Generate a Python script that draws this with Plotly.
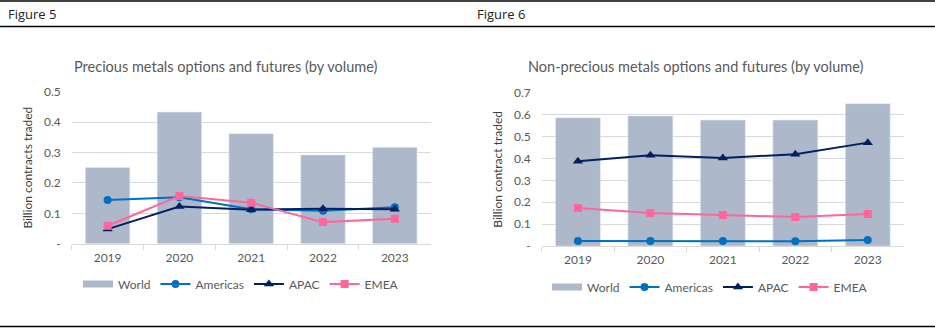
import plotly.graph_objects as go

years = ["2019", "2020", "2021", "2022", "2023"]

# Precious metals (billion contracts)
prec_world = [0.251, 0.433, 0.362, 0.292, 0.317]
prec_americas = [0.144, 0.153, 0.113, 0.108, 0.120]
prec_apac = [0.048, 0.122, 0.112, 0.115, 0.113]
prec_emea = [0.059, 0.157, 0.135, 0.071, 0.082]

# Non-precious metals (billion contracts)
nonp_world = [0.586, 0.594, 0.575, 0.575, 0.650]
nonp_americas = [0.023, 0.023, 0.023, 0.022, 0.027]
nonp_apac = [0.387, 0.414, 0.402, 0.419, 0.472]
nonp_emea = [0.174, 0.151, 0.142, 0.132, 0.146]

prec_ticks = [0, 0.1, 0.2, 0.3, 0.4, 0.5]
prec_ticktext = ["-", "0.1", "0.2", "0.3", "0.4", "0.5"]
nonp_ticks = [0, 0.1, 0.2, 0.3, 0.4, 0.5, 0.6, 0.7]
nonp_ticktext = ["-", "0.1", "0.2", "0.3", "0.4", "0.5", "0.6", "0.7"]

W, H = 935, 330
C_WORLD = "#adb9ca"
C_AM = "#0070c0"
C_AP = "#002060"
C_EM = "#ff6699"
TXT = "#595959"
FONT = "Lato"

fig = go.Figure()


def add_panel(xa, ya, leg, world, am, ap, em):
    fig.add_trace(go.Bar(x=years, y=world, name="World", marker_color=C_WORLD,
                         width=0.62, xaxis=xa, yaxis=ya, showlegend=False))
    # legend key for the bars drawn as a flat wide patch
    fig.add_trace(go.Scatter(x=[None], y=[None], name="World", mode="lines",
                             line=dict(color=C_WORLD, width=7),
                             xaxis=xa, yaxis=ya, legend=leg))
    fig.add_trace(go.Scatter(x=years, y=am, name="Americas", mode="lines+markers",
                             line=dict(color=C_AM, width=2),
                             marker=dict(symbol="circle", size=8, color=C_AM),
                             xaxis=xa, yaxis=ya, legend=leg))
    fig.add_trace(go.Scatter(x=years, y=ap, name="APAC", mode="lines+markers",
                             line=dict(color=C_AP, width=2),
                             marker=dict(symbol="triangle-up", size=9, color=C_AP),
                             xaxis=xa, yaxis=ya, legend=leg))
    fig.add_trace(go.Scatter(x=years, y=em, name="EMEA", mode="lines+markers",
                             line=dict(color=C_EM, width=2),
                             marker=dict(symbol="square", size=8, color=C_EM),
                             xaxis=xa, yaxis=ya, legend=leg))


add_panel("x", "y", "legend", prec_world, prec_americas, prec_apac, prec_emea)
add_panel("x2", "y2", "legend2", nonp_world, nonp_americas, nonp_apac, nonp_emea)


def px_x(p):
    return p / W


def px_y(p):
    return 1 - p / H


xcommon = dict(type="category", showgrid=False, showline=True, linecolor="#d9d9d9",
               linewidth=1, ticks="outside", tickson="boundaries", ticklen=5,
               tickcolor="#d9d9d9", tickfont=dict(size=12, color=TXT, family=FONT),
               ticklabelstandoff=3, fixedrange=True, automargin=False)
ycommon = dict(showgrid=True, gridcolor="#d9d9d9", gridwidth=1, zeroline=False,
               showline=False, tickfont=dict(size=12, color=TXT, family=FONT),
               ticks="", ticklabelstandoff=10, fixedrange=True, automargin=False)

fig.update_layout(
    width=W, height=H,
    margin=dict(l=0, r=0, t=0, b=0, autoexpand=False),
    paper_bgcolor="white", plot_bgcolor="white",
    xaxis=dict(xcommon, domain=[px_x(71.7), px_x(430.7)], anchor="y"),
    yaxis=dict(ycommon, domain=[px_y(243.7), px_y(91.7)], range=[0, 0.5],
               tickvals=prec_ticks, ticktext=prec_ticktext, anchor="x",
               title=dict(text="Billion contracts traded", standoff=8,
                          font=dict(size=12, color="#404040", family=FONT))),
    xaxis2=dict(xcommon, domain=[px_x(541.7), px_x(904)], anchor="y2"),
    yaxis2=dict(ycommon, domain=[px_y(246), px_y(92.7)], range=[0, 0.7],
                tickvals=nonp_ticks, ticktext=nonp_ticktext, anchor="x2",
                title=dict(text="Billion contract traded", standoff=8,
                           font=dict(size=12, color="#404040", family=FONT))),
    legend=dict(orientation="h", x=px_x(78), y=px_y(284), yanchor="middle",
                xanchor="left", font=dict(size=12, color=TXT, family=FONT),
                bgcolor="rgba(0,0,0,0)", itemwidth=30),
    legend2=dict(orientation="h", x=px_x(547), y=px_y(287), yanchor="middle",
                 xanchor="left", font=dict(size=12, color=TXT, family=FONT),
                 bgcolor="rgba(0,0,0,0)", itemwidth=30),
)

# Panel titles
fig.add_annotation(text="Precious metals options and futures (by volume)",
                   x=px_x(225), y=px_y(67), xref="paper", yref="paper",
                   xanchor="center", yanchor="middle", showarrow=False,
                   font=dict(size=14.5, color=TXT, family=FONT))
fig.add_annotation(text="Non-precious metals options and futures (by volume)",
                   x=px_x(696), y=px_y(67), xref="paper", yref="paper",
                   xanchor="center", yanchor="middle", showarrow=False,
                   font=dict(size=14.5, color=TXT, family=FONT))

# Figure labels
for label, lx in (("Figure 5", 6), ("Figure 6", 475)):
    fig.add_annotation(text=label, x=px_x(lx), y=px_y(14), xref="paper", yref="paper",
                       xanchor="left", yanchor="middle", showarrow=False,
                       font=dict(size=13, color="#222222", family="Open Sans"))

# Rules across the page
for yy in (1, 26.5, 326.5):
    fig.add_shape(type="line", xref="paper", yref="paper", x0=0, x1=1,
                  y0=px_y(yy), y1=px_y(yy), line=dict(color="black", width=1.5))

fig.write_html(
    "out.html",
    post_script="document.body.style.margin='0';document.body.style.overflow='hidden';",
)
